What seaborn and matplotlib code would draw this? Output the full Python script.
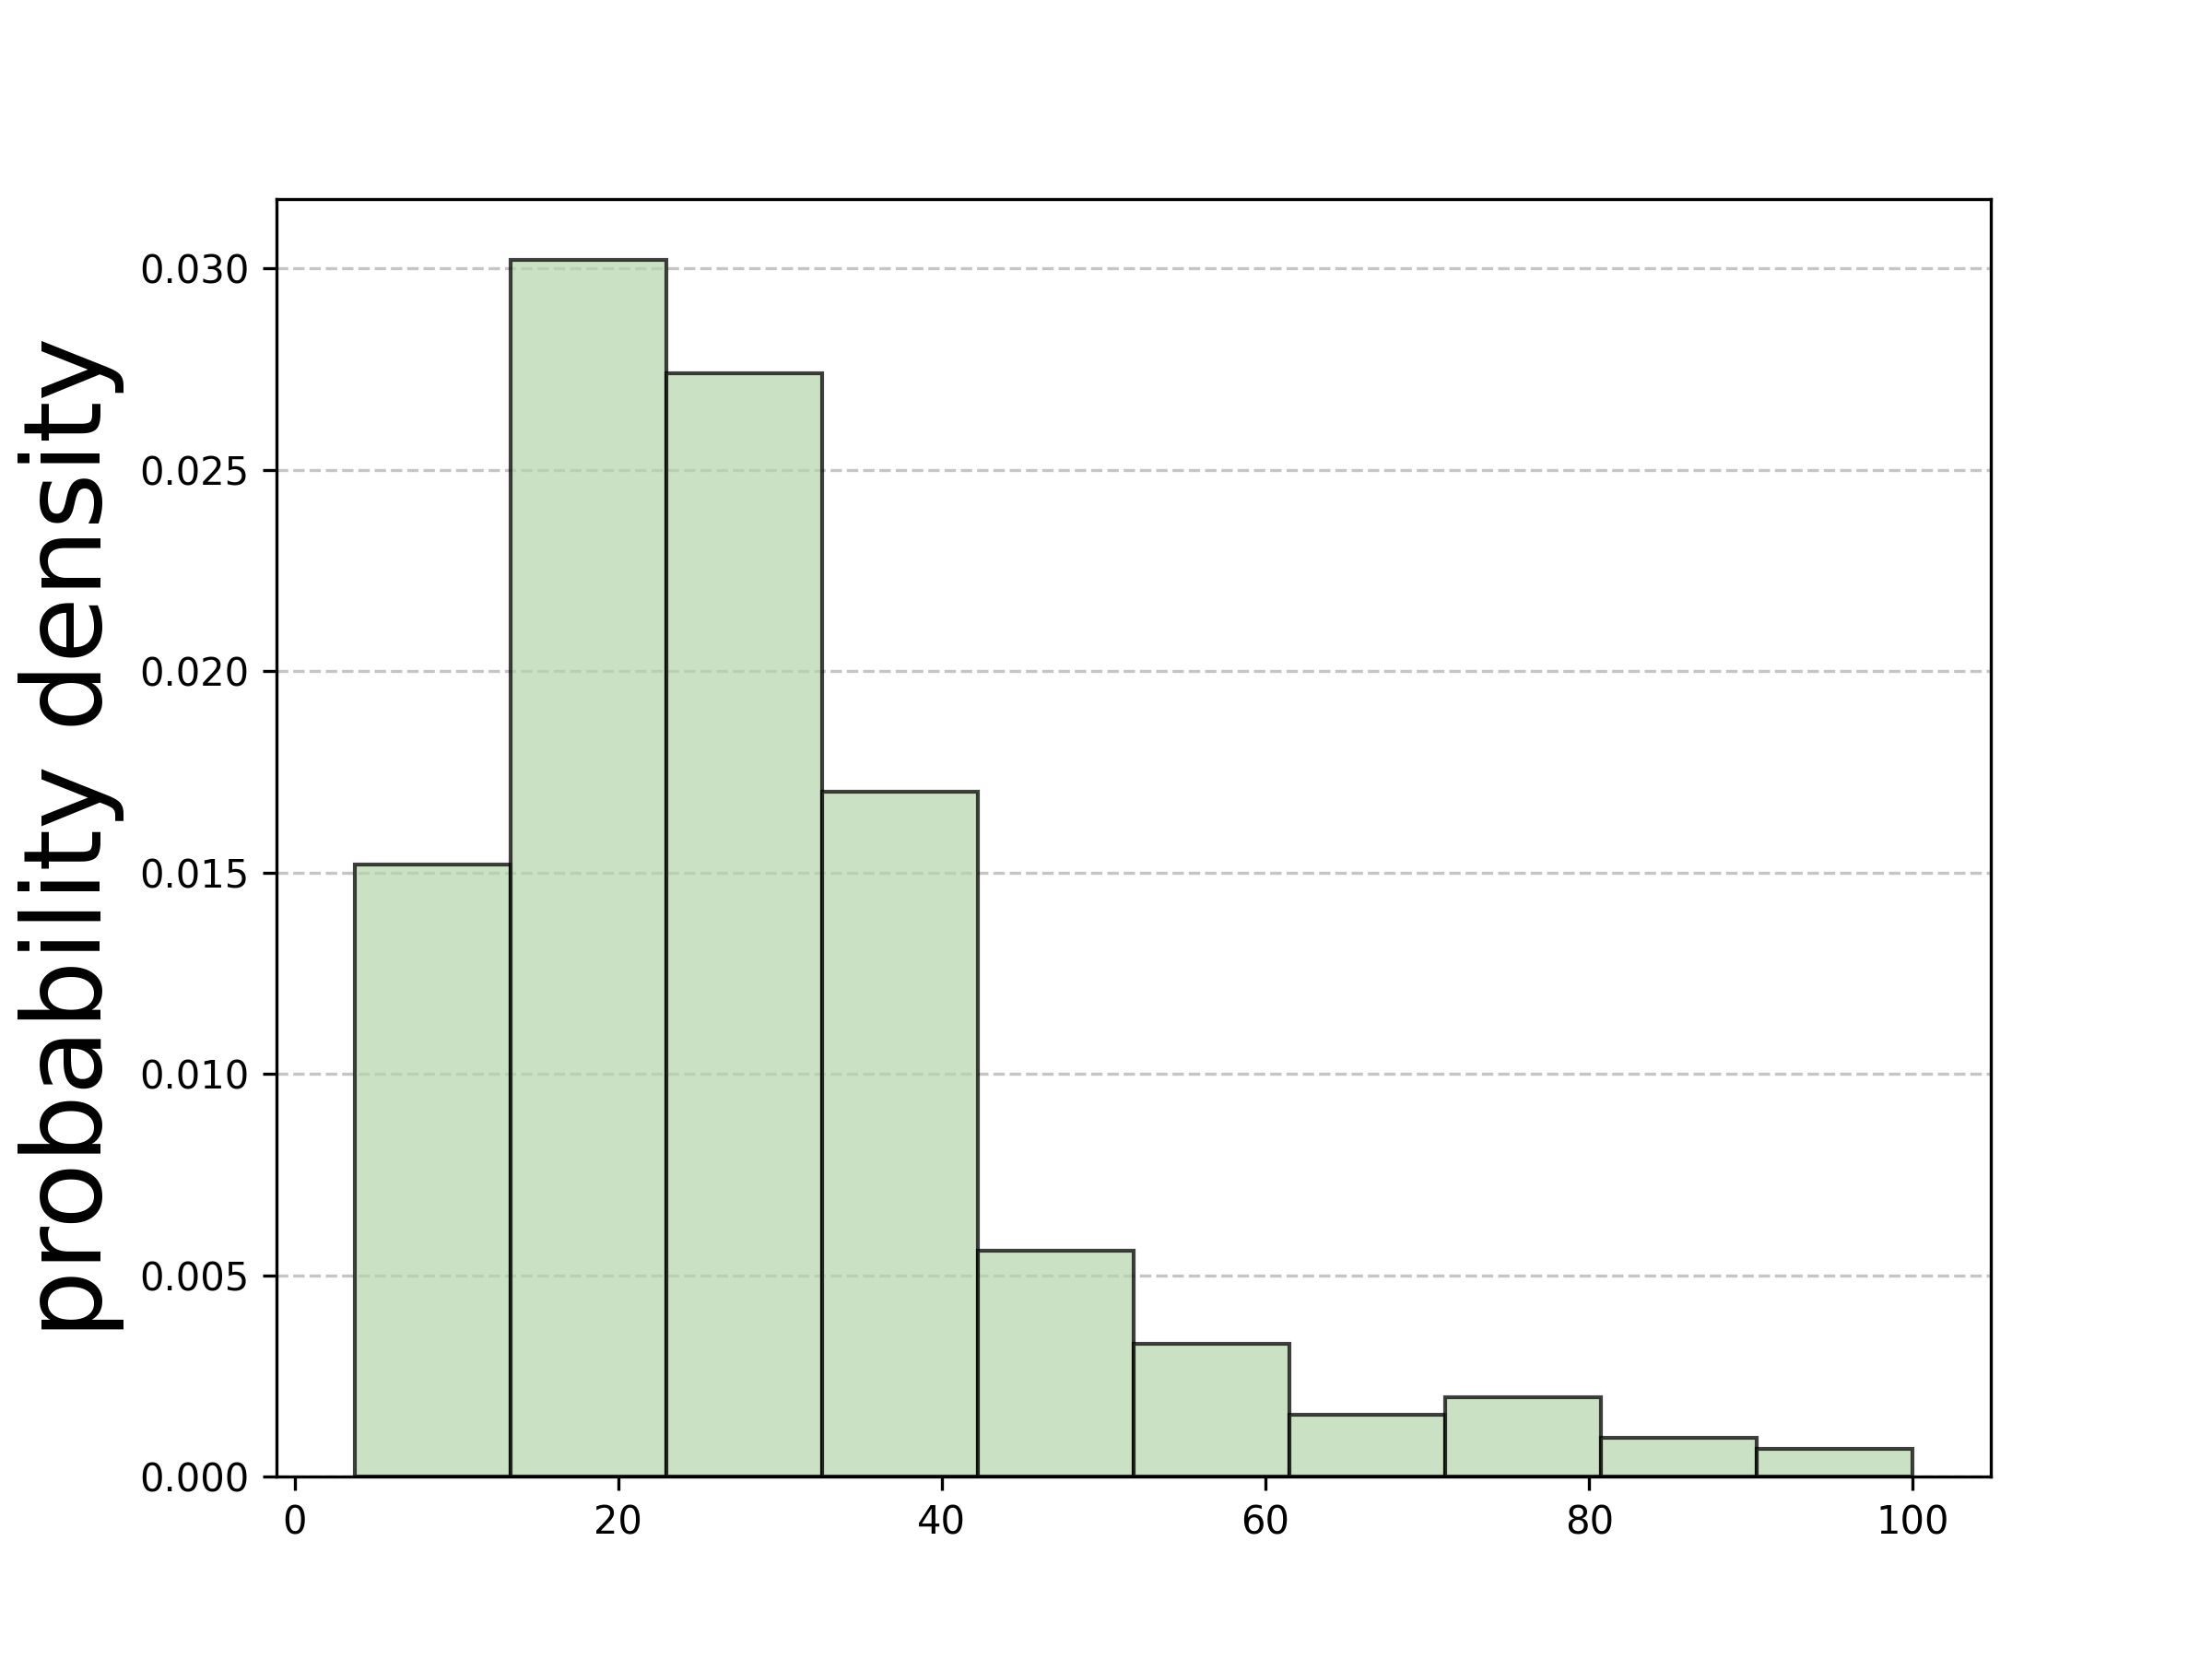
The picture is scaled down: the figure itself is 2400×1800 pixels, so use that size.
import numpy as np
import pandas as pd
import matplotlib
matplotlib.use("Agg")
import matplotlib.pyplot as plt
import seaborn as sns

# Data
bin_edges = [3.7, 13.33, 22.96, 32.59, 42.22, 51.85, 61.48, 71.11, 80.74, 90.37, 100.0]
densities = [0.0152, 0.0302, 0.0274, 0.0170, 0.0056, 0.0033, 0.00153, 0.00197, 0.00097, 0.00069]
y_label = "probability density"

centers = [(a + b) / 2 for a, b in zip(bin_edges[:-1], bin_edges[1:])]
df = pd.DataFrame({"value": centers, "density": densities})

fig, ax = plt.subplots(figsize=(8, 6), dpi=300)
ax.grid(axis="y", linestyle="--", color="gray", alpha=0.45, linewidth=0.8)
ax.set_axisbelow(True)

sns.histplot(data=df, x="value", weights="density", bins=bin_edges, stat="count",
             color=(182/255, 213/255, 171/255), edgecolor=(0, 0, 0, 0.75), linewidth=1.0,
             alpha=0.7, ax=ax)

ax.set_xlabel("")
ax.set_ylabel(y_label, fontsize=28)
ax.set_xticks([0, 20, 40, 60, 80, 100])
ax.set_yticks([0.0, 0.005, 0.010, 0.015, 0.020, 0.025, 0.030])
ax.yaxis.set_major_formatter(matplotlib.ticker.FormatStrFormatter("%.3f"))
ax.margins(x=0.05, y=0.05)
ax.set_ylim(0, 0.03172)

fig.savefig("out.png", dpi=300)
